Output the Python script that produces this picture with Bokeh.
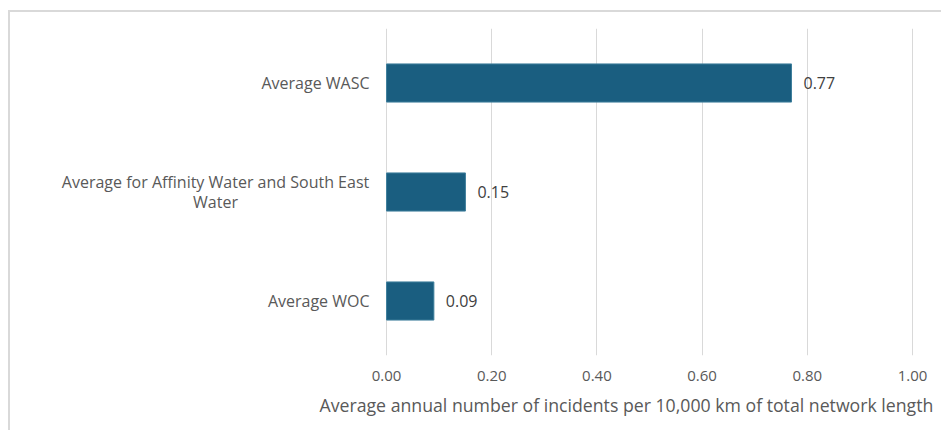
from bokeh.plotting import figure
from bokeh.models import (ColumnDataSource, FactorRange, FixedTicker, LabelSet,
                          Range1d, CustomJSTickFormatter, Title)
from bokeh.core.properties import value
from bokeh.embed import file_html
from bokeh.resources import INLINE

# Data
categories = ["Average WASC",
              "Average for Affinity Water and South East\nWater",
              "Average WOC"]
values = [0.77, 0.15, 0.09]
value_labels = ["0.77", "0.15", "0.09"]
x_ticks = [0.0, 0.2, 0.4, 0.6, 0.8, 1.0]
x_title = "Average annual number of incidents per 10,000 km of total network length"

FONT = "Open Sans"
BAR = "#1A5E80"
GREY = "#595959"

source = ColumnDataSource(dict(cat=categories, val=values, lab=value_labels))
single = [c for c in categories if "\n" not in c]
wrapped = [c for c in categories if "\n" in c]
single_src = ColumnDataSource(dict(cat=single, zero=[0] * len(single)))
wrapped_src = ColumnDataSource(dict(cat=wrapped, zero=[0] * len(wrapped)))

# the frame spans the category-label area too (negative x), so the labels
# are drawn inside it; ticks and grid lines only cover 0 .. 1
p = figure(width=933, height=420,
           y_range=FactorRange(factors=list(reversed(categories))),
           x_range=Range1d(-0.715, 1.059),
           output_backend="svg", toolbar_location=None,
           min_border_left=0, min_border_right=0,
           min_border_top=16, min_border_bottom=77)
p.styles = {"margin-left": "8px", "margin-top": "10px",
            "border-left": "2px solid #d9d9d9", "border-top": "2px solid #d9d9d9"}
p.outline_line_color = None
p.background_fill_color = "white"
p.border_fill_color = "white"

p.hbar(y="cat", right="val", left=0, height=0.35, source=source,
       fill_color=BAR, line_color="#3f7f9c", line_width=1)

# value labels just past the end of each bar
p.add_layout(LabelSet(x="val", y="cat", text="lab", source=source,
                      x_offset=12, text_baseline="middle",
                      text_font=value(FONT), text_font_size=value("16px"),
                      text_color="#404040"))

# category labels: single-line ones right-aligned, wrapped ones centred as a block
p.text(x="zero", y="cat", text="cat", source=single_src,
       x_offset=-17, text_align="right", text_baseline="middle",
       text_font=value(FONT), text_font_size="16px", text_color=GREY)
p.text(x="zero", y="cat", text="cat", source=wrapped_src,
       x_offset=-171, text_align="center", text_baseline="middle",
       text_font=value(FONT), text_font_size="16px", text_color=GREY,
       text_line_height=0.95)

p.yaxis.visible = False
p.ygrid.grid_line_color = None

p.xaxis.ticker = FixedTicker(ticks=x_ticks)
p.xaxis.formatter = CustomJSTickFormatter(code="return tick.toFixed(2);")
p.xaxis.axis_line_color = None
p.xaxis.major_tick_line_color = None
p.xaxis.minor_tick_line_color = None
p.xaxis.major_label_standoff = 9
p.xaxis.major_label_text_font = FONT
p.xaxis.major_label_text_font_size = "15px"
p.xaxis.major_label_text_color = GREY

# axis title below the tick labels
p.add_layout(Title(text=x_title, align="left", offset=309, standoff=14,
                   text_font=FONT, text_font_size="17.7px", text_font_style="normal",
                   text_color=GREY), "below")

p.xgrid.ticker = FixedTicker(ticks=x_ticks)
p.xgrid.grid_line_color = "#d9d9d9"
p.xgrid.grid_line_width = 1

open("out.html", "w").write(file_html(p, INLINE))
